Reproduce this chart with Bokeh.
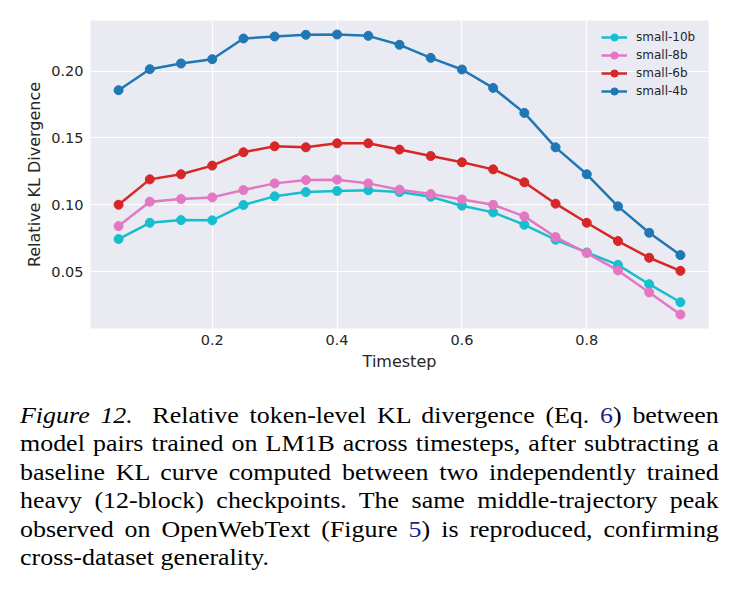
from bokeh.plotting import figure
from bokeh.models import Range1d, FixedTicker, Div, Legend, LegendItem
from bokeh.layouts import column
from bokeh.embed import file_html
from bokeh.resources import INLINE

# ---------------- data ----------------
timesteps = [0.05, 0.10, 0.15, 0.20, 0.25, 0.30, 0.35, 0.40, 0.45, 0.50,
             0.55, 0.60, 0.65, 0.70, 0.75, 0.80, 0.85, 0.90, 0.95]
small_10b = [0.0743, 0.0865, 0.0885, 0.0883, 0.0998, 0.1063, 0.1095, 0.1103, 0.1108, 0.1095,
             0.1060, 0.0993, 0.0943, 0.0850, 0.0738, 0.0643, 0.0550, 0.0405, 0.0270]
small_8b = [0.0840, 0.1023, 0.1043, 0.1055, 0.1110, 0.1160, 0.1185, 0.1188, 0.1160, 0.1113,
            0.1080, 0.1040, 0.1000, 0.0913, 0.0758, 0.0638, 0.0508, 0.0343, 0.0178]
small_6b = [0.1000, 0.1190, 0.1228, 0.1293, 0.1393, 0.1438, 0.1430, 0.1460, 0.1460, 0.1413,
            0.1365, 0.1318, 0.1265, 0.1168, 0.1008, 0.0865, 0.0728, 0.0603, 0.0505]
small_4b = [0.1858, 0.2015, 0.2058, 0.2090, 0.2245, 0.2260, 0.2273, 0.2275, 0.2265, 0.2198,
            0.2100, 0.2013, 0.1875, 0.1688, 0.1430, 0.1228, 0.0988, 0.0790, 0.0623]

series_names = ["small-10b", "small-8b", "small-6b", "small-4b"]
series_values = [small_10b, small_8b, small_6b, small_4b]
series_colors = ["#17becf", "#e377c2", "#d62728", "#1f77b4"]

x_ticks = [0.2, 0.4, 0.6, 0.8]
x_tick_labels = ["0.2", "0.4", "0.6", "0.8"]
y_ticks = [0.05, 0.10, 0.15, 0.20]
y_tick_labels = ["0.05", "0.10", "0.15", "0.20"]
x_label = "Timestep"
y_label = "Relative KL Divergence"

caption_lines = [
    '<i>Figure 12.</i><span style="display:inline-block;width:8px"></span> Relative token-level KL divergence (Eq. <span style="color:#1b1f8a">6</span>) between',
    "model pairs trained on LM1B across timesteps, after subtracting a",
    "baseline KL curve computed between two independently trained",
    "heavy (12-block) checkpoints. The same middle-trajectory peak",
    'observed on OpenWebText (Figure <span style="color:#1b1f8a">5</span>) is reproduced, confirming',
    "cross-dataset generality.",
]

# ---------------- figure ----------------
TXT = "#262626"
FONT = "DejaVu Sans"

xmin, xmax = min(timesteps), max(timesteps)
all_y = [v for s in series_values for v in s]
ymin, ymax = min(all_y), max(all_y)
xpad = (xmax - xmin) * 0.05
ypad = (ymax - ymin) * 0.05

p = figure(width=735, height=385, output_backend="svg", toolbar_location=None,
           x_range=Range1d(xmin - xpad, xmax + xpad),
           y_range=Range1d(ymin - ypad, ymax + ypad),
           min_border_left=90, min_border_right=27, min_border_top=20, min_border_bottom=57)

p.background_fill_color = "#eaeaf2"
p.border_fill_color = "white"
p.outline_line_color = None

for ax in (p.xaxis[0], p.yaxis[0]):
    ax.axis_line_color = None
    ax.major_tick_line_color = None
    ax.minor_tick_line_color = None
    ax.major_tick_out = 0
    ax.major_tick_in = 0
    ax.minor_tick_out = 0
    ax.major_label_text_font = FONT
    ax.major_label_text_font_size = "14.5px"
    ax.major_label_text_color = TXT
    ax.axis_label_text_font = FONT
    ax.axis_label_text_font_size = "16px"
    ax.axis_label_text_font_style = "normal"
    ax.axis_label_text_color = TXT

p.xaxis.ticker = FixedTicker(ticks=x_ticks)
p.yaxis.ticker = FixedTicker(ticks=y_ticks)
p.xaxis.major_label_overrides = dict(zip(x_ticks, x_tick_labels))
p.yaxis.major_label_overrides = dict(zip(y_ticks, y_tick_labels))
p.xaxis.axis_label = x_label
p.yaxis.axis_label = y_label
p.xaxis.major_label_standoff = 6
p.xaxis.axis_label_standoff = 4
p.yaxis.major_label_standoff = 7
p.yaxis.axis_label_standoff = 4

p.xgrid.grid_line_color = "white"
p.ygrid.grid_line_color = "white"
p.xgrid.grid_line_width = 1.2
p.ygrid.grid_line_width = 1.2

items = []
for name, vals, col in zip(series_names, series_values, series_colors):
    lr = p.line(timesteps, vals, line_color=col, line_width=2.5)
    sr = p.scatter(timesteps, vals, size=9, fill_color=col, line_color=col, marker="circle")
    items.append(LegendItem(label=name, renderers=[lr, sr]))

legend = Legend(items=items, location=(511, 228), margin=0, padding=4, spacing=0,
                glyph_width=26, glyph_height=18, label_height=18, label_standoff=9,
                label_text_font=FONT, label_text_font_size="12px", label_text_color=TXT,
                border_line_color=None, background_fill_alpha=0)
p.add_layout(legend)

# ---------------- caption ----------------
rows = []
for i, line in enumerate(caption_lines):
    last = i == len(caption_lines) - 1
    align = "left" if last else "justify"
    rows.append(
        f'<div style="white-space:nowrap;text-align:{align};text-align-last:{align};height:28.4px;">{line}</div>'
    )
html = (
    '<div style="margin-left:20px;margin-top:16px;width:633px;transform:scaleX(1.104);'
    'transform-origin:0 0;font-family:\'Liberation Serif\';font-size:23.5px;line-height:28.4px;color:#000;">'
    + "".join(rows) + "</div>"
)
caption = Div(text=html, width=735, height=211, margin=(0, 0, 0, 0))

layout = column(p, caption, spacing=0)
open("out.html", "w").write(file_html(layout, INLINE))
